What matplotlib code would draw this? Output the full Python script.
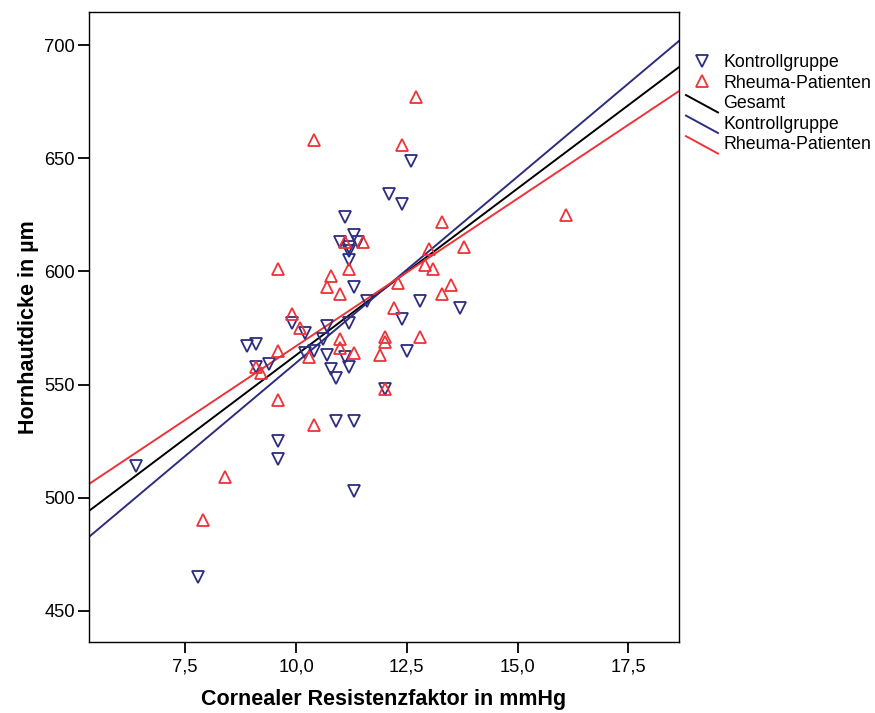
import matplotlib
matplotlib.use("Agg")
import matplotlib.pyplot as plt
import numpy as np
from matplotlib.lines import Line2D
from matplotlib.legend_handler import HandlerBase
from matplotlib.ticker import FixedLocator, FuncFormatter

plt.rcParams['font.family'] = ['Liberation Sans', 'DejaVu Sans']

# Kontrollgruppe (corneal resistance factor, corneal thickness)
kontroll_x = [12.6, 12.1, 12.4, 11.1, 11.3, 11.0, 11.4, 11.2, 11.2, 11.2,
              11.3, 11.6, 11.2, 10.7, 10.2, 10.6, 12.4, 12.8, 13.7, 12.5,
              10.2, 10.4, 10.7, 11.1, 11.2, 10.8, 10.9, 12.0, 10.9, 11.3,
              11.3, 8.9, 9.1, 9.1, 9.4, 9.9, 9.6, 9.6, 6.4, 7.8]
kontroll_y = [649, 634, 630, 624, 616, 613, 613, 611, 609, 605,
              593, 587, 577, 576, 573, 570, 579, 587, 584, 565,
              564, 565, 563, 562, 558, 557, 553, 548, 534, 534,
              503, 567, 568, 558, 559, 577, 525, 517, 514, 465]

# Rheuma-Patienten
rheuma_x = [12.7, 10.4, 12.4, 13.3, 16.1, 11.1, 11.5, 11.2, 10.8, 10.7,
            11.0, 9.6, 12.2, 12.0, 12.0, 11.0, 11.0, 11.3, 11.9, 10.3,
            12.0, 10.4, 9.6, 9.6, 8.4, 7.9, 9.9, 10.1, 9.1, 9.2,
            13.0, 13.8, 12.9, 13.1, 12.3, 13.5, 13.3, 12.8]
rheuma_y = [677, 658, 656, 622, 625, 613, 613, 601, 598, 593,
            590, 601, 584, 571, 569, 570, 566, 564, 563, 562,
            548, 532, 565, 543, 509, 490, 581, 575, 558, 555,
            610, 611, 603, 601, 595, 594, 590, 571]

# Linear fits: intercept, slope
fit_names = ["Gesamt", "Kontrollgruppe", "Rheuma-Patienten"]
fit_intercepts = [415.7, 395.0, 436.6]
fit_slopes = [14.73, 16.46, 13.04]

x_ticks = [7.5, 10.0, 12.5, 15.0, 17.5]
y_ticks = [450, 500, 550, 600, 650, 700]

NAVY = "#2d2d7f"
RED = "#ee3338"
fit_colors = ["black", NAVY, RED]

fig = plt.figure(figsize=(8.75, 7.13), dpi=100)
ax = fig.add_axes([89 / 875, 1 - 642 / 713, (679 - 89) / 875, (642 - 12) / 713])

xlim = (5.33, 18.64)
ylim = (436.3, 714.6)

ax.plot(kontroll_x, kontroll_y, linestyle="none", marker="v", ms=8.5,
        mfc="none", mec=NAVY, mew=1.3, zorder=3)
ax.plot(rheuma_x, rheuma_y, linestyle="none", marker="^", ms=8.5,
        mfc="none", mec=RED, mew=1.3, zorder=3)

xs = np.array(xlim)
for b0, b1, c in zip(fit_intercepts, fit_slopes, fit_colors):
    ax.plot(xs, b0 + b1 * xs, color=c, lw=1.4, zorder=2)

ax.set_xlim(*xlim)
ax.set_ylim(*ylim)

ax.xaxis.set_major_locator(FixedLocator(x_ticks))
ax.yaxis.set_major_locator(FixedLocator(y_ticks))
ax.xaxis.set_major_formatter(FuncFormatter(lambda v, p: f"{v:.1f}".replace(".", ",")))
ax.yaxis.set_major_formatter(FuncFormatter(lambda v, p: f"{int(v)}"))
ax.tick_params(direction="out", length=8, width=1.3, labelsize=13.2)
ax.tick_params(axis="x", pad=4)
ax.tick_params(axis="y", pad=2)
for s in ax.spines.values():
    s.set_linewidth(1.0)

ax.set_xlabel("Cornealer Resistenzfaktor in mmHg", fontsize=15.5,
              fontweight="bold", va="center")
ax.set_ylabel("Hornhautdicke in µm", fontsize=15.5, fontweight="bold",
              va="center")
ax.xaxis.set_label_coords(0.5, (642 - 700) / 630)
ax.yaxis.set_label_coords((29 - 89) / 590, 0.5)


class DiagonalLine(HandlerBase):
    def create_artists(self, legend, orig_handle, xdescent, ydescent,
                       width, height, fontsize, trans):
        ln = Line2D([-xdescent, -xdescent + width],
                    [height * 1.05, -height * 0.35],
                    color=orig_handle.get_color(), lw=1.4, transform=trans)
        return [ln]


handles = [
    Line2D([], [], linestyle="none", marker="v", ms=8.5, mfc="none", mec=NAVY, mew=1.3),
    Line2D([], [], linestyle="none", marker="^", ms=8.5, mfc="none", mec=RED, mew=1.3),
]
line_handles = [Line2D([], [], color=c) for c in fit_colors]
labels = ["Kontrollgruppe", "Rheuma-Patienten"] + fit_names
hmap = {h: DiagonalLine() for h in line_handles}

fig.legend(handles + line_handles, labels, loc="upper left",
           bbox_to_anchor=(686 / 875, 1 - 54 / 713), frameon=False,
           fontsize=12.8, handlelength=1.8, handletextpad=0.3,
           labelspacing=0.2, borderpad=0, borderaxespad=0,
           handler_map=hmap)

fig.savefig("out.png", dpi=100)
